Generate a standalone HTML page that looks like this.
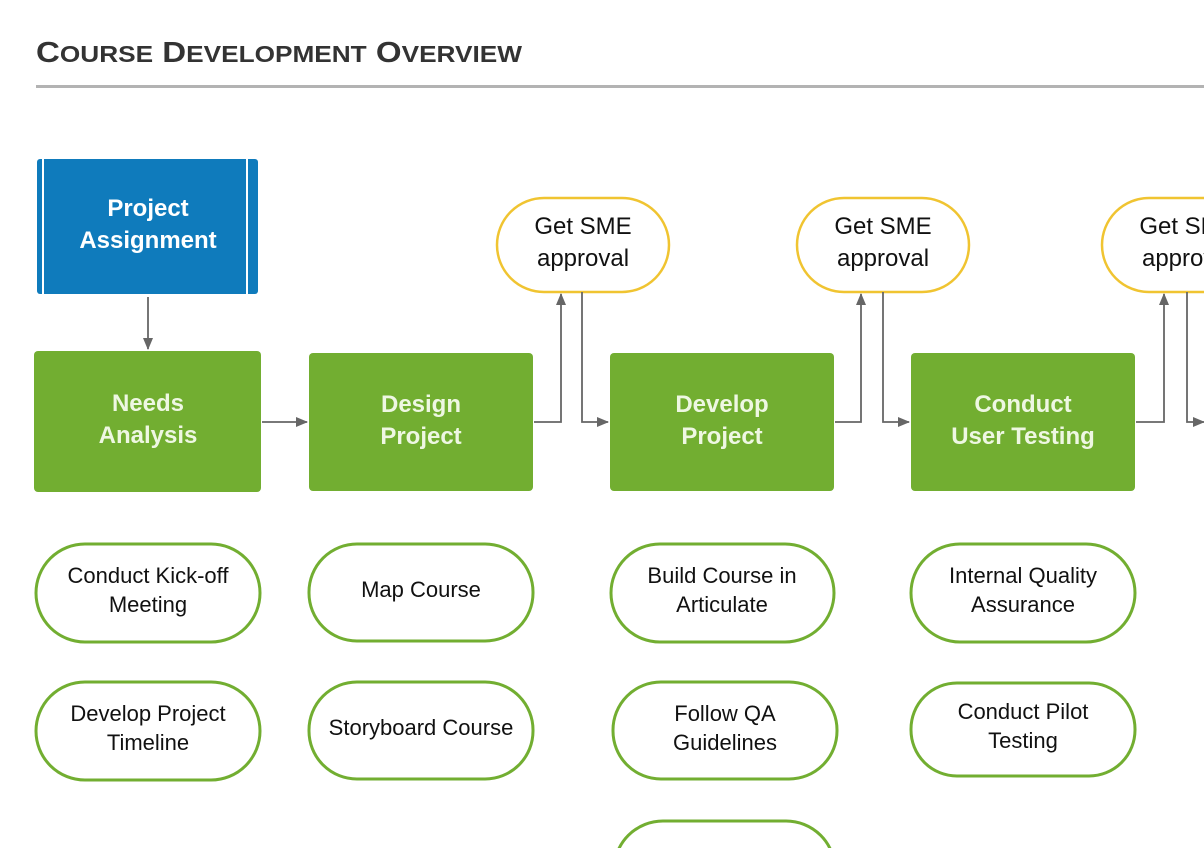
<!DOCTYPE html>
<html><head><meta charset="utf-8"><style>
body{margin:0;background:#fff;width:1204px;height:848px;overflow:hidden}
svg{display:block;font-family:"Liberation Sans",Arial,sans-serif}
</style></head><body>
<svg width="1204" height="848" viewBox="0 0 1204 848">
<defs><marker id="a" markerWidth="12" markerHeight="10" refX="11" refY="5" orient="auto" markerUnits="userSpaceOnUse"><path d="M0,0 L12,5 L0,10z" fill="#666"/></marker></defs>
<text x="36" y="62" font-size="29" font-weight="bold" fill="#333" textLength="486" lengthAdjust="spacingAndGlyphs">C<tspan font-size="23">OURSE</tspan> D<tspan font-size="23">EVELOPMENT</tspan> O<tspan font-size="23">VERVIEW</tspan></text>
<rect x="36" y="85" width="1168" height="3" fill="#b3b3b3"/>
<rect x="37" y="159" width="221" height="135" rx="3" fill="#0f7bbc"/>
<rect x="42" y="159" width="2" height="135" fill="#fff"/><rect x="246" y="159" width="2" height="135" fill="#fff"/>
<text x="148" y="216" font-size="24" font-weight="bold" fill="#fff" text-anchor="middle">Project</text>
<text x="148" y="248" font-size="24" font-weight="bold" fill="#fff" text-anchor="middle">Assignment</text>
<g fill="#72ae31">
<rect x="34" y="351" width="227" height="141" rx="4"/>
<rect x="309" y="353" width="224" height="138" rx="4"/>
<rect x="610" y="353" width="224" height="138" rx="4"/>
<rect x="911" y="353" width="224" height="138" rx="4"/>
</g>
<g font-size="24" font-weight="bold" fill="#eef7e2" text-anchor="middle">
<text x="148" y="411">Needs</text><text x="148" y="443">Analysis</text>
<text x="421" y="412">Design</text><text x="421" y="444">Project</text>
<text x="722" y="412">Develop</text><text x="722" y="444">Project</text>
<text x="1023" y="412">Conduct</text><text x="1023" y="444">User Testing</text>
</g>
<g fill="#fff" stroke="#f0c431" stroke-width="2.5">
<rect x="497" y="198" width="172" height="94" rx="47"/>
<rect x="797" y="198" width="172" height="94" rx="47"/>
<rect x="1102" y="198" width="172" height="94" rx="47"/>
</g>
<g font-size="24" fill="#111" text-anchor="middle">
<text x="583" y="234">Get SME</text><text x="583" y="266">approval</text>
<text x="883" y="234">Get SME</text><text x="883" y="266">approval</text>
<text x="1188" y="234">Get SME</text><text x="1188" y="266">approval</text>
</g>
<g stroke="#666" stroke-width="1.8" fill="none" marker-end="url(#a)">
<path d="M148 297 V349"/>
<path d="M262 422 H307"/>
<path d="M534 422 H561 V294"/><path d="M582 292 V422 H608"/>
<path d="M835 422 H861 V294"/><path d="M883 292 V422 H909"/>
<path d="M1136 422 H1164 V294"/><path d="M1187 292 V422 H1204"/>
</g>
<g fill="#fff" stroke="#72ae31" stroke-width="3">
<rect x="36" y="544" width="224" height="98" rx="49"/>
<rect x="309" y="544" width="224" height="97" rx="48"/>
<rect x="611" y="544" width="223" height="98" rx="49"/>
<rect x="911" y="544" width="224" height="98" rx="49"/>
<rect x="36" y="682" width="224" height="98" rx="49"/>
<rect x="309" y="682" width="224" height="97" rx="48"/>
<rect x="613" y="682" width="224" height="97" rx="48"/>
<rect x="911" y="683" width="224" height="93" rx="46"/>
<rect x="614" y="821" width="221" height="98" rx="49"/>
</g>
<g font-size="22" fill="#111" text-anchor="middle">
<text x="148" y="583">Conduct Kick-off</text><text x="148" y="612">Meeting</text>
<text x="421" y="597">Map Course</text>
<text x="722" y="583">Build Course in</text><text x="722" y="612">Articulate</text>
<text x="1023" y="583">Internal Quality</text><text x="1023" y="612">Assurance</text>
<text x="148" y="721">Develop Project</text><text x="148" y="750">Timeline</text>
<text x="421" y="735">Storyboard Course</text>
<text x="725" y="721">Follow QA</text><text x="725" y="750">Guidelines</text>
<text x="1023" y="719">Conduct Pilot</text><text x="1023" y="748">Testing</text>
</g>
</svg>
</body></html>
